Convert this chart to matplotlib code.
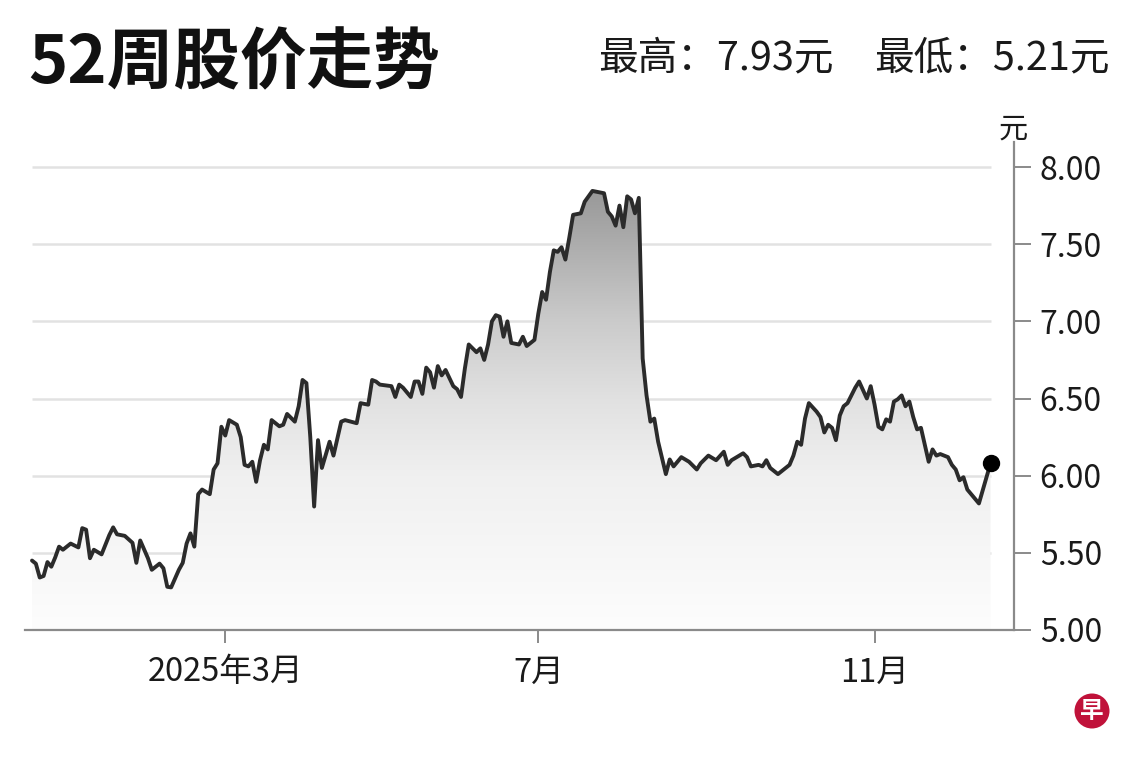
import matplotlib
matplotlib.use("Agg")
import matplotlib.pyplot as plt
import matplotlib.transforms as mtransforms
import numpy as np
import pandas as pd
from matplotlib.colors import LinearSegmentedColormap
from matplotlib.patches import Circle

plt.rcParams['font.family'] = ['Noto Sans CJK SC', 'DejaVu Sans']

# ---------------- data ----------------
start_date = "2024-12-17"
n_days = 249
holidays = ["2024-12-25", "2025-01-01", "2025-01-29", "2025-01-30", "2025-03-31",
            "2025-04-18", "2025-05-01", "2025-05-12", "2025-06-09", "2025-08-11",
            "2025-10-20"]

day = [0, 1, 2, 3, 4, 5, 6, 7, 8, 10,
       12, 13, 14, 15, 16, 18, 20, 21, 22, 24,
       26, 27, 28, 30, 31, 33, 34, 35, 36, 38,
       39, 40, 41, 42, 43, 44, 46, 47, 48, 49,
       50, 51, 53, 54, 55, 56, 57, 58, 59, 60,
       61, 62, 64, 65, 66, 68, 69, 70, 71, 72,
       73, 74, 75, 77, 78, 80, 81, 84, 85, 87,
       88, 89, 90, 93, 94, 95, 96, 98, 99, 100,
       101, 102, 103, 104, 105, 106, 107, 109, 110, 111,
       112, 113, 115, 116, 117, 118, 119, 120, 121, 122,
       123, 124, 126, 127, 128, 130, 131, 132, 133, 134,
       135, 136, 137, 138, 139, 140, 142, 143, 145, 146,
       148, 149, 150, 151, 152, 153, 154, 155, 156, 157,
       158, 159, 160, 161, 162, 164, 165, 166, 168, 170,
       172, 173, 175, 177, 179, 180, 181, 184, 185, 186,
       188, 189, 190, 191, 193, 194, 196, 197, 198, 199,
       200, 201, 203, 204, 205, 206, 207, 208, 209, 210,
       211, 213, 214, 216, 217, 218, 219, 220, 221, 222,
       223, 224, 225, 226, 227, 228, 229, 230, 232, 233,
       234, 235, 237, 238, 239, 240, 241, 242, 244, 245, 248]

price = [5.45, 5.43, 5.34, 5.35, 5.44, 5.41, 5.47, 5.54, 5.52, 5.56,
         5.535, 5.66, 5.65, 5.465, 5.52, 5.49, 5.615, 5.665, 5.62, 5.61,
         5.565, 5.435, 5.58, 5.465, 5.39, 5.43, 5.40, 5.28, 5.276, 5.39,
         5.435, 5.56, 5.626, 5.54, 5.88, 5.91, 5.88, 6.04, 6.08, 6.317,
         6.26, 6.36, 6.33, 6.25, 6.07, 6.06, 6.09, 5.96, 6.10, 6.20,
         6.17, 6.36, 6.32, 6.33, 6.40, 6.35, 6.45, 6.62, 6.60, 6.25,
         5.80, 6.23, 6.05, 6.22, 6.13, 6.35, 6.36, 6.34, 6.47, 6.46,
         6.62, 6.61, 6.59, 6.58, 6.51, 6.59, 6.57, 6.51, 6.61, 6.61,
         6.53, 6.70, 6.67, 6.57, 6.71, 6.65, 6.685, 6.58, 6.56, 6.51,
         6.695, 6.85, 6.80, 6.825, 6.75, 6.85, 7.00, 7.04, 7.03, 6.90,
         7.00, 6.86, 6.85, 6.90, 6.84, 6.88, 7.05, 7.19, 7.14, 7.32,
         7.46, 7.45, 7.48, 7.40, 7.54, 7.69, 7.70, 7.775, 7.845, 7.84,
         7.83, 7.71, 7.68, 7.62, 7.75, 7.61, 7.81, 7.79, 7.70, 7.80,
         6.76, 6.52, 6.35, 6.37, 6.22, 6.01, 6.105, 6.06, 6.12, 6.09,
         6.04, 6.08, 6.13, 6.10, 6.155, 6.07, 6.10, 6.145, 6.12, 6.06,
         6.07, 6.06, 6.10, 6.05, 6.01, 6.03, 6.07, 6.13, 6.22, 6.20,
         6.37, 6.47, 6.415, 6.38, 6.28, 6.33, 6.31, 6.23, 6.39, 6.45,
         6.47, 6.57, 6.61, 6.50, 6.58, 6.46, 6.317, 6.30, 6.365, 6.35,
         6.48, 6.495, 6.52, 6.45, 6.48, 6.38, 6.30, 6.31, 6.09, 6.17,
         6.13, 6.14, 6.12, 6.07, 6.04, 5.97, 5.99, 5.91, 5.85, 5.82, 6.08]

tick_months = ["2025-03-01", "2025-07-01", "2025-11-01"]
tick_labels = ["2025年3月", "7月", "11月"]
y_ticks = [5.0, 5.5, 6.0, 6.5, 7.0, 7.5, 8.0]
y_labels = ["5.00", "5.50", "6.00", "6.50", "7.00", "7.50", "8.00"]
title = "52周股价走势"
high_text = "最高：7.93元"
low_text = "最低：5.21元"
unit = "元"

# ---------------- figure ----------------
W, H = 1140, 760
fig = plt.figure(figsize=(W / 100, H / 100), dpi=100)
fig.patch.set_facecolor("white")

ax_l, ax_r, ax_b, ax_t = 25, 1014, 630, 142
ax = fig.add_axes([ax_l / W, 1 - ax_b / H, (ax_r - ax_l) / W, (ax_b - ax_t) / H])

dates = pd.bdate_range(start=start_date, periods=n_days, freq="C", holidays=holidays)
tick_pos = [int(np.searchsorted(dates.values, np.datetime64(m))) for m in tick_months]

x = np.array(day, dtype=float)
y = np.array(price, dtype=float)

ppd = 3.865
ax.set_xlim(-(32 - ax_l) / ppd, (ax_r - 32) / ppd)
ax.set_ylim(5.0, 8.0 + (167 - ax_t) / 154.33)

# grid lines over data span
ax.hlines(y_ticks[1:], x[0], x[-1], color="#e2e2e2", lw=1.8, zorder=1)

# gradient fill clipped by area under curve
cmap = LinearSegmentedColormap.from_list(
    "g", [(0.0, "#fdfdfd"), (1 / 3, "#f0f0f0"), (0.5, "#e1e1e1"),
          (2 / 3, "#cbcbcb"), (5 / 6, "#adadad"), (1.0, "#909090")])
grad = np.linspace(0, 1, 256).reshape(-1, 1)
poly = ax.fill_between(x, y, 5.0, color="none", lw=0)
img = ax.imshow(grad, cmap=cmap, origin="lower", aspect="auto",
                extent=[x[0], x[-1], 5.0, 8.0], zorder=2, interpolation="bicubic")
img.set_clip_path(poly.get_paths()[0], transform=ax.transData)

ax.plot(x, y, color="#2b2b2b", lw=2.8, solid_joinstyle="round",
        solid_capstyle="round", zorder=4)
ax.plot(x[-1], y[-1], "o", color="black", ms=11.5, zorder=5)

# spines
for s in ["left", "top"]:
    ax.spines[s].set_visible(False)
for s in ["right", "bottom"]:
    ax.spines[s].set_color("#8a8a8a")
    ax.spines[s].set_linewidth(1.6)

# y ticks drawn explicitly on the right side
ax.set_yticks([])
blend = mtransforms.blended_transform_factory(ax.transAxes, ax.transData)
tick_len = 17 / (ax_r - ax_l)
for v, lab in zip(y_ticks, y_labels):
    ax.plot([1.0, 1.0 + tick_len], [v, v], transform=blend, color="#8a8a8a",
            lw=1.4, clip_on=False, solid_capstyle="butt")
    ax.annotate(lab, xy=(1.0, v), xycoords=blend, xytext=(18.5, 0),
                textcoords="offset points", ha="left", va="center_baseline",
                fontsize=23, color="#1a1a1a", annotation_clip=False)

ax.set_xticks(tick_pos)
ax.set_xticklabels(tick_labels)
ax.tick_params(axis="x", which="major", direction="out", length=9, width=1.4,
               color="#8a8a8a", pad=10, labelsize=23.5, labelcolor="#1a1a1a")
ax.set_facecolor("none")

# texts
fig.text(28 / W, 1 - 64 / H, title, fontsize=48, fontweight="bold",
         ha="left", va="center", color="#111111")
fig.text(598 / W, 1 - 58 / H, high_text, fontsize=28.5, ha="left", va="center",
         color="#1a1a1a")
fig.text(1110 / W, 1 - 58 / H, low_text, fontsize=28.5, ha="right", va="center",
         color="#1a1a1a")
fig.text(1013 / W, 1 - 130 / H, unit, fontsize=21, ha="center", va="center",
         color="#1a1a1a")

# logo
cx, cy, r = 1092 / 100, (H - 711) / 100, 0.175
fig.patches.append(Circle((cx, cy), r, transform=fig.dpi_scale_trans,
                          facecolor="#c0123a", edgecolor="none"))
fig.text(1092 / W, 1 - 711 / H, "早", fontsize=17, fontweight="bold",
         color="white", ha="center", va="center")

fig.savefig("out.png", dpi=100, facecolor="white")
